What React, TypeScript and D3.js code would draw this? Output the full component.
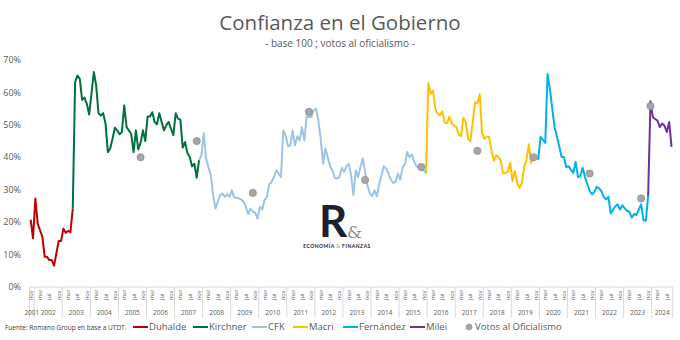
import React from "react";
import * as d3 from "d3";

// ---------- DATA ----------
const firstMonth = "2001-11";
const lastMonth = "2024-09";

const duhaldeStart = "2001-11";
const duhalde = [20.8, 15, 27.3, 19.6, 17.5, 15.5, 9.3, 9.3, 8.3, 8.3, 6.6, 10.4, 14.2, 14.2, 18, 16.7, 17.3, 16.9, 24.2];

const kirchnerStart = "2003-05";
const kirchner = [24.2, 63.2, 65.2, 64.2, 57.7, 58.4, 56.5, 53.2, 59.6, 66.3, 62.2, 53.6, 52.9, 53.6, 50.4, 41.6, 42.7, 45.7, 49.1, 48.3, 47.1, 47.8, 56, 49.3, 48.3, 47.1, 41.6, 48.3, 42.4, 44.5, 48.3, 45, 52.6, 52.6, 53.9, 50.9, 50.2, 53.6, 50.9, 48.3, 49.9, 50.9, 48.8, 46.8, 53.6, 51.9, 51.6, 43, 44.7, 41.3, 40.1, 37.2, 38, 33.7, 39.1];

const cfkStart = "2007-11";
const cfk = [39.1, 40.6, 47.5, 39.6, 37, 34.5, 28.3, 24.2, 26.3, 28.3, 28.8, 27.8, 28.6, 27.8, 29.8, 27.6, 27.5, 27.3, 27, 26.3, 24.7, 22.5, 24.2, 23.2, 22.9, 21.1, 24.7, 23.9, 26.8, 27.8, 31.7, 32.4, 33.9, 36, 35, 33.9, 48.3, 46.8, 43.4, 43.7, 48.3, 43.7, 46.5, 45.2, 49.3, 45.2, 52.6, 52.4, 52.4, 54.5, 55, 51.4, 45.7, 38, 42.7, 40.1, 37.2, 36, 33.7, 33.4, 33.9, 36.8, 35.5, 37.2, 38, 34.5, 28.3, 36, 33.9, 37, 39.6, 35.5, 31.4, 28.8, 28, 29.8, 28, 31.7, 34.5, 37.2, 36.5, 35, 33.1, 32.1, 32.4, 35, 33.1, 36.8, 37.8, 41.6, 40.1, 40.9, 38.6, 37.2, 36.8, 36, 36, 35];

const macriStart = "2015-12";
const macri = [35, 62.9, 59.6, 60.6, 55, 53.4, 52.9, 54.2, 50.8, 50.5, 52.5, 50.4, 49.8, 49.3, 47.1, 46.5, 52.2, 50.9, 45.7, 45, 50.9, 57, 56.7, 59.4, 47.3, 45.7, 46.3, 46.3, 42.2, 38.9, 40.6, 40.1, 38.9, 35, 35.2, 35.5, 38.3, 32.7, 35.8, 32.1, 30.6, 32.1, 37, 39.3, 44, 38.3, 40.1, 39.6, 39.3];

const fernandezStart = "2019-12";
const fernandez = [39.3, 46.3, 45.4, 44.4, 65.7, 61.1, 55, 49.3, 46.3, 43.4, 40.1, 40.1, 37, 37.2, 36.2, 35.2, 38.6, 33.9, 34.2, 36.8, 33.9, 31.7, 29.6, 28.6, 29.3, 30.9, 30.4, 29.6, 27.8, 27, 27.8, 22.7, 23.9, 24.9, 25.5, 23.9, 25.2, 24.2, 23.5, 23.2, 21.4, 22.5, 22.2, 23.9, 25.5, 20.6, 20.4, 28];

const mileiStart = "2023-11";
const milei = [28, 57.3, 52.4, 51.8, 51.3, 49.3, 50.4, 49.7, 47.8, 50.9, 43.2];

const voteMonths = ["2005-10", "2007-10", "2009-10", "2011-10", "2013-10", "2015-10", "2017-10", "2019-10", "2021-10", "2023-08", "2023-12"];
const voteValues = [40, 45, 29, 54, 33, 37, 42, 40, 35, 27.3, 55.8];

const seriesNames = ["Duhalde", "Kirchner", "CFK", "Macri", "Fernández", "Milei"];
const seriesColors = ["#C00000", "#00703C", "#9DC3E6", "#FFC000", "#00B0F0", "#7030A0"];
const seriesStarts = [duhaldeStart, kirchnerStart, cfkStart, macriStart, fernandezStart, mileiStart];
const seriesValues = [duhalde, kirchner, cfk, macri, fernandez, milei];

const yTicks = [0, 10, 20, 30, 40, 50, 60, 70];
const monthAbbr = ["ene", "feb", "mar", "abr", "may", "jun", "jul", "ago", "sep", "oct", "nov", "dic"];
const labelMonths = [3, 7, 11];

// ---------- helpers ----------
function buildMonths(a: string, b: string): string[] {
  const [ya, ma] = a.split("-").map(Number);
  const [yb, mb] = b.split("-").map(Number);
  const out: string[] = [];
  let y = ya, m = ma;
  while (y < yb || (y === yb && m <= mb)) {
    out.push(`${y}-${String(m).padStart(2, "0")}`);
    m++;
    if (m > 12) { m = 1; y++; }
  }
  return out;
}

const categories = buildMonths(firstMonth, lastMonth);

const FONT = "'Open Sans', 'Noto Sans', sans-serif";
const GRAY = "#595959";

export default function App() {
  const W = 680, H = 340;
  const x = d3.scaleBand<string>().domain(categories).range([29.5, 672.7]).padding(0);
  const bw = x.bandwidth();
  const cx = (c: string) => (x(c) as number) + bw / 2;
  const y = d3.scaleLinear().domain([0, 70]).range([287, 60]);

  const line = d3.line<[string, number]>().x((d) => cx(d[0])).y((d) => y(d[1]));

  const seriesData = seriesValues.map((vals, k) => {
    const idx0 = categories.indexOf(seriesStarts[k]);
    return vals.map((v, j) => [categories[idx0 + j], v] as [string, number]);
  });

  const years = Array.from(new Set(categories.map((c) => c.slice(0, 4))));
  const yearInfo = years.map((yr) => {
    const cs = categories.filter((c) => c.startsWith(yr));
    const x0 = x(cs[0]) as number;
    const x1 = (x(cs[cs.length - 1]) as number) + bw;
    return { yr, x0, x1, mid: (x0 + x1) / 2 };
  });

  const monthLabels = categories.filter((c) => labelMonths.includes(Number(c.slice(5))));

  const legendItems = [
    { name: seriesNames[0], color: seriesColors[0], x: 133 },
    { name: seriesNames[1], color: seriesColors[1], x: 193 },
    { name: seriesNames[2], color: seriesColors[2], x: 252 },
    { name: seriesNames[3], color: seriesColors[3], x: 293 },
    { name: seriesNames[4], color: seriesColors[4], x: 343 },
    { name: seriesNames[5], color: seriesColors[5], x: 410 },
  ];

  return (
    <svg width={W} height={H} style={{ position: "absolute", left: 0, top: 0, background: "#fff" }} fontFamily={FONT}>
      <rect width={W} height={H} fill="#fff" />
      <text x={340} y={30} textAnchor="middle" fontSize={20.5} fill={GRAY}>Confianza en el Gobierno</text>
      <text x={340} y={47} textAnchor="middle" fontSize={10} fill={GRAY}>- base 100 ; votos al oficialismo -</text>

      {yTicks.map((t) => (
        <text key={t} x={21} y={y(t)} dy="0.35em" textAnchor="end" fontSize={9} fill={GRAY}>{t}%</text>
      ))}

      {/* Logo */}
      <g>
        <text x={319} y={237} fontSize={44} fontWeight={700} fill="#1B2035" fontFamily="'Lato', sans-serif">R</text>
        <text x={347} y={238} fontSize={17} fill="#8C8C8C" fontFamily="'DejaVu Serif', serif">&amp;</text>
        <text x={337} y={248} textAnchor="middle" fontSize={5} fontWeight={700} fill="#1B2035" letterSpacing={0.5} fontFamily="'Lato', sans-serif">
          ECONOMÍA <tspan fill="#8C8C8C" fontWeight={400}>&amp;</tspan> FINANZAS
        </text>
      </g>

      {/* X axis */}
      <line x1={29.5} x2={672.7} y1={287} y2={287} stroke="#D9D9D9" strokeWidth={1} />
      {yearInfo.map((g) => (
        <line key={"s" + g.yr} x1={g.x0} x2={g.x0} y1={287} y2={318} stroke="#D9D9D9" strokeWidth={1} />
      ))}
      <line x1={672.7} x2={672.7} y1={287} y2={318} stroke="#D9D9D9" strokeWidth={1} />
      {monthLabels.map((c) => (
        <text key={"m" + c} transform={`translate(${cx(c) + 2},300) rotate(-90)`} fontSize={5.5} fill={GRAY}>
          {monthAbbr[Number(c.slice(5)) - 1]}
        </text>
      ))}
      {yearInfo.map((g) => (
        <text key={"y" + g.yr} x={g.mid} y={315} textAnchor="middle" fontSize={6.5} fill={GRAY}>{g.yr}</text>
      ))}

      {seriesData.map((d, k) => (
        <path key={seriesNames[k]} d={line(d) || ""} fill="none" stroke={seriesColors[k]} strokeWidth={2} strokeLinejoin="round" />
      ))}

      {voteMonths.map((m, i) => (
        <circle key={"v" + m} cx={cx(m)} cy={y(voteValues[i])} r={3.6} fill="#A6A6A6" stroke="#8F8F8F" strokeWidth={0.8} />
      ))}

      {/* Footer */}
      <text x={5} y={330} fontSize={6.5} fill="#404040">Fuente: Romano Group en base a UTDT.</text>
      {legendItems.map((it) => (
        <g key={"l" + it.name}>
          <line x1={it.x} x2={it.x + 15} y1={327} y2={327} stroke={it.color} strokeWidth={2} />
          <text x={it.x + 16} y={327} dy="0.35em" fontSize={9.5} fill={GRAY}>{it.name}</text>
        </g>
      ))}
      <circle cx={469} cy={327} r={3} fill="#A6A6A6" stroke="#8F8F8F" strokeWidth={0.6} />
      <text x={475} y={327} dy="0.35em" fontSize={9.5} fill={GRAY}>Votos al Oficialismo</text>
    </svg>
  );
}
